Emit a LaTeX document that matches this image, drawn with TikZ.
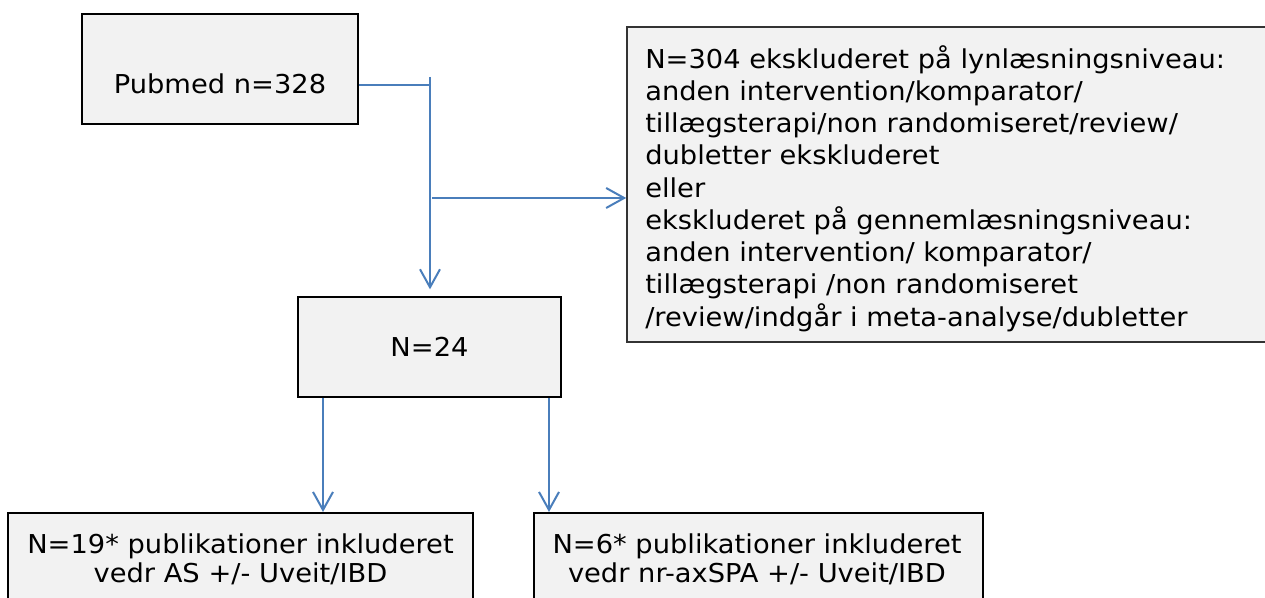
\documentclass[tikz,border=0pt]{standalone}
\usepackage{fontspec}
\setmainfont[FakeStretch=1.05]{DejaVu Sans}
\usetikzlibrary{arrows.meta}
\definecolor{linkblue}{HTML}{4A7EBB}
\definecolor{boxgray}{HTML}{F2F2F2}

\begin{document}
\begin{tikzpicture}[x=0.75pt, y=-0.75pt,
    box/.style={shape=rectangle, draw=black, line width=1.5pt, fill=boxgray, inner sep=0pt},
    txt/.style={inner sep=0pt, font={\fontsize{19.5}{24.2}\selectfont}},
    flow/.style={draw=linkblue, line width=1.5pt,
      -{Straight Barb[length=13.5pt, width=15pt]}}
  ]
  \useasboundingbox (0,0) rectangle (1265,598);
  \clip (0,0) rectangle (1265,598);

  % ------------------------------------------------------------------------
  % Search
  \node[box, minimum width=207pt, minimum height=82.5pt] at (220, 69) (pub) {};
  \node[txt, anchor=base] at (220, 94) (pubtext) {Pubmed n=328};

  \node[box, draw=black!80, line width=1.2pt,
        minimum width=489.75pt, minimum height=236.25pt] at (953.5, 184.5) (excl) {};
  \node[txt, anchor=north west, align=left] at (645, 45) (excltext)
    {N=304 ekskluderet på lynlæsningsniveau:\\
     anden intervention/komparator/\\
     tillægsterapi/non randomiseret/review/\\
     dubletter ekskluderet\\
     eller\\
     ekskluderet på gennemlæsningsniveau:\\
     anden intervention/ komparator/\\
     tillægsterapi /non randomiseret\\
     /review/indgår i meta-analyse/dubletter};

  \node[box, txt, minimum width=197.25pt, minimum height=75pt] at (429.5, 347) (n24) {N=24};

  % ------------------------------------------------------------------------
  % Included
  \node[box, minimum width=348.75pt, minimum height=80.25pt] at (240.5, 566.5) (inclAS) {};
  \node[txt, anchor=north, align=center, font={\fontsize{19.5}{22.1}\selectfont}]
    at (240.5, 533) (inclAStext) {N=19* publikationer inkluderet\\vedr AS +/- Uveit/IBD};

  \node[box, minimum width=336.75pt, minimum height=80.25pt] at (758.5, 566.5) (inclSPA) {};
  \node[txt, anchor=north, align=center, font={\fontsize{19.5}{22.1}\selectfont}]
    at (757, 533) (inclSPAtext) {N=6* publikationer inkluderet\\vedr nr-axSPA +/- Uveit/IBD};

  % ------------------------------------------------------------------------
  % Connectors
  \coordinate (split) at (430, 85);
  \coordinate (splittop) at (430, 77);
  \coordinate (branch) at (432, 198);
  \coordinate (leftdrop) at (323, 0);
  \coordinate (rightdrop) at (549, 0);

  \draw[flow, -]
    (pub.east |- split) -- (split)
  ;
  \draw[flow, shorten >=5pt]
    (splittop) -- (splittop |- n24.north)
  ;
  \draw[flow]
    (branch) -- (excl.west |- branch)
  ;
  \draw[flow]
    (n24.south -| leftdrop) -- (inclAS.north -| leftdrop)
  ;
  \draw[flow]
    (n24.south -| rightdrop) -- (inclSPA.north -| rightdrop)
  ;
\end{tikzpicture}
\end{document}
